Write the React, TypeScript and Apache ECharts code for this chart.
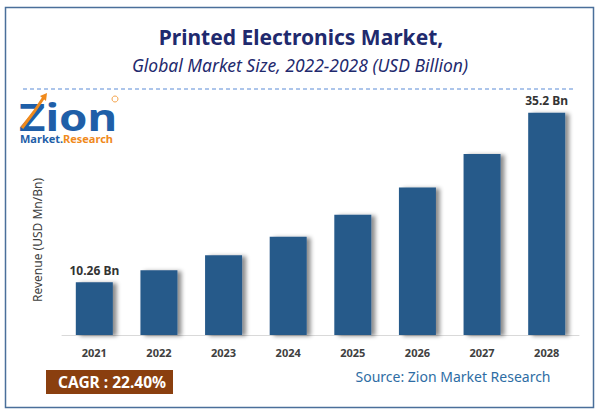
import React, { useEffect, useRef } from "react";
import * as echarts from "echarts";

const years = ["2021", "2022", "2023", "2024", "2025", "2026", "2027", "2028"];
const revenue = [10.26, 12.03, 14.24, 16.94, 20.18, 24.2, 29.12, 35.2];
const labelled = ["10.26 Bn", "", "", "", "", "", "", "35.2 Bn"];

export default function App() {
  const ref = useRef<HTMLDivElement>(null);
  useEffect(() => {
    if (!ref.current) return;
    const chart = echarts.init(ref.current, undefined, { renderer: "svg" });
    const font = "'Noto Sans', sans-serif";
    chart.setOption({
      animation: false,
      backgroundColor: "#ffffff",
      grid: { left: 62, right: 22, top: 80, bottom: 81, containLabel: false },
      xAxis: {
        type: "category",
        data: years,
        axisLine: { lineStyle: { color: "#d9d9d9", width: 1 } },
        axisTick: { show: false },
        axisLabel: { color: "#404040", fontWeight: "bold", fontSize: 11, fontFamily: font, margin: 12 },
      },
      yAxis: {
        type: "value",
        min: 2.5,
        max: 40,
        axisLine: { show: false },
        axisTick: { show: false },
        axisLabel: { show: false },
        splitLine: { show: false },
      },
      series: [
        {
          type: "bar",
          data: revenue,
          barWidth: 37,
          itemStyle: {
            color: "#275a8a",
            shadowColor: "rgba(0,0,0,0.45)",
            shadowBlur: 4,
            shadowOffsetX: 4,
            shadowOffsetY: 1,
          },
          label: {
            show: true,
            position: "top",
            distance: 6,
            formatter: (p: any) => labelled[p.dataIndex],
            color: "#333333",
            fontWeight: "bold",
            fontSize: 12,
            fontFamily: font,
          },
        },
      ],
      graphic: [
        {
          type: "rect",
          shape: { x: 5.5, y: 7.5, width: 588, height: 400 },
          style: { fill: "none", stroke: "#4a6f9a", lineWidth: 1.5 },
          silent: true,
        },
        {
          type: "text",
          x: 301,
          y: 37,
          style: {
            text: "Printed Electronics Market,",
            fill: "#1f2a6e",
            font: `bold 21px ${font}`,
            align: "center",
            verticalAlign: "middle",
          },
        },
        {
          type: "text",
          x: 300,
          y: 65,
          style: {
            text: "Global Market Size, 2022-2028 (USD Billion)",
            fill: "#1f2a6e",
            font: `italic 17.5px ${font}`,
            align: "center",
            verticalAlign: "middle",
          },
        },
        {
          type: "line",
          shape: { x1: 23, y1: 89, x2: 573, y2: 89 },
          style: { stroke: "#5b8bd6", lineWidth: 1, lineDash: [4, 3] },
        },
        {
          type: "text",
          x: 19,
          y: 116,
          scaleX: 1.2,
          style: {
            text: "Zion",
            fill: "#1f5fa8",
            font: `bold 38px ${font}`,
            align: "left",
            verticalAlign: "middle",
          },
        },
        {
          type: "polyline",
          shape: { points: [[22, 128], [34, 112], [44, 97]] },
          style: { stroke: "#f08a1c", lineWidth: 3, fill: "none" },
        },
        {
          type: "polygon",
          shape: { points: [[40, 96], [47, 93], [46, 101]] },
          style: { fill: "#f08a1c" },
        },
        {
          type: "circle",
          shape: { cx: 115, cy: 99, r: 3 },
          style: { fill: "none", stroke: "#f08a1c", lineWidth: 0.8 },
        },
        {
          type: "text",
          x: 20,
          y: 138,
          style: {
            text: "Market.",
            fill: "#1f5fa8",
            font: `bold 11px ${font}`,
            align: "left",
            verticalAlign: "middle",
          },
        },
        {
          type: "text",
          x: 63,
          y: 138,
          style: {
            text: "Research",
            fill: "#f08a1c",
            font: `bold 11px ${font}`,
            align: "left",
            verticalAlign: "middle",
          },
        },
        {
          type: "text",
          x: 37,
          y: 240,
          rotation: Math.PI / 2,
          style: {
            text: "Revenue (USD Mn/Bn)",
            fill: "#404040",
            font: `12px ${font}`,
            align: "center",
            verticalAlign: "middle",
          },
        },
        {
          type: "rect",
          shape: { x: 46, y: 370, width: 127, height: 24 },
          style: { fill: "#8a3f0f" },
        },
        {
          type: "text",
          x: 112,
          y: 382,
          style: {
            text: "CAGR : 22.40%",
            fill: "#ffffff",
            font: `bold 15.5px ${font}`,
            align: "center",
            verticalAlign: "middle",
          },
        },
        {
          type: "text",
          x: 453,
          y: 376,
          style: {
            text: "Source: Zion Market Research",
            fill: "#2e6da4",
            font: `14px ${font}`,
            align: "center",
            verticalAlign: "middle",
          },
        },
      ],
    });
    return () => chart.dispose();
  }, []);
  return (
    <div
      ref={ref}
      style={{ width: 601, height: 416, position: "fixed", left: 0, top: 0 }}
    />
  );
}
